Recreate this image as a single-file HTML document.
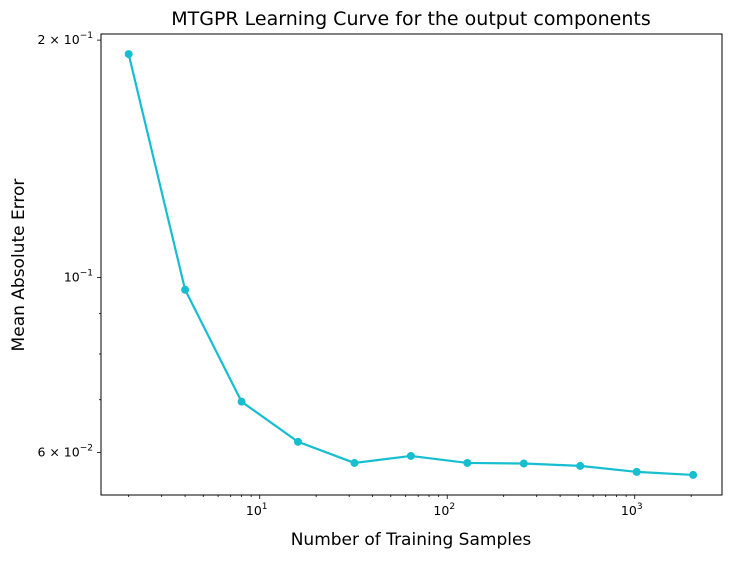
<!DOCTYPE html>
<html><head><meta charset="utf-8"><style>
body{margin:0;background:#fff;}
svg{font-family:"DejaVu Sans","Liberation Sans",sans-serif;}
</style></head><body>
<svg id="chart" width="731" height="559" xmlns="http://www.w3.org/2000/svg">
<rect width="731" height="559" fill="#fff"/>
<text x="411" y="25" font-size="19" text-anchor="middle">MTGPR Learning Curve for the output components</text>
<text x="411" y="545" font-size="17" text-anchor="middle">Number of Training Samples</text>
<text transform="translate(24,265) rotate(-90)" font-size="17" text-anchor="middle">Mean Absolute Error</text>
<g id="axes"></g>
<g id="marks"></g>
<rect x="101" y="34" width="621" height="461" fill="none" stroke="#000" stroke-width="1"/>
</svg>
<script>
const samples = [2,4,8,16,32,64,128,256,512,1024,2048];
const maeValues = [0.192,0.0965,0.0696,0.0619,0.0582,0.0594,0.0582,0.0581,0.0577,0.0567,0.0562];
const xTickValues = [10,100,1000];
const xTickLabels = ["10","10","10"];
const xTickExps = ["1","2","3"];
const yTickValues = [0.2,0.1,0.06];
const yTickMant = ["2 × 10","10","6 × 10"];
const yTickExps = ["−1","−1","−2"];
const yMinorValues = [0.07,0.08,0.09];

const L=101,R=722,T=34,B=495;
const xMin=Math.log10(1.424),xMax=Math.log10(2920);
const yMin=Math.log10(0.0530),yMax=Math.log10(0.2036);
const xs=v=>L+(Math.log10(v)-xMin)/(xMax-xMin)*(R-L);
const ys=v=>B-(Math.log10(v)-yMin)/(yMax-yMin)*(B-T);
const NS="http://www.w3.org/2000/svg";
function mk(tag,attrs,parent){const e=document.createElementNS(NS,tag);for(const k in attrs)e.setAttribute(k,attrs[k]);parent.appendChild(e);return e;}
const axes=document.getElementById('axes'),marks=document.getElementById('marks');
for(let d=1;d<=1000;d*=10)for(let m=2;m<=9;m++){const v=d*m;const x=xs(v);if(x<L||x>R)continue;
 const t=mk('line',{x1:x,x2:x,y1:B,y2:B+2,stroke:'#000','stroke-width':0.8},axes);
 
 }
xTickValues.forEach((v,i)=>{const x=xs(v);
 const t=mk('line',{x1:x,x2:x,y1:B,y2:B+4,stroke:'#000','stroke-width':0.8},axes);
 
 
 const tx=mk('text',{x:x-3,y:B+20,'font-size':12.5,'text-anchor':'middle'},axes);
 
 
 tx.textContent=xTickLabels[i];
 const sp=mk('tspan',{dy:-6,'font-size':9},tx);sp.textContent=xTickExps[i];});
yMinorValues.forEach(v=>{const y=ys(v);
 const t=mk('line',{x1:L-2,x2:L,y1:y,y2:y,stroke:'#000','stroke-width':0.8},axes);
 
 });
yTickValues.forEach((v,i)=>{const y=ys(v);
 const t=mk('line',{x1:L-4,x2:L,y1:y,y2:y,stroke:'#000','stroke-width':0.8},axes);
 
 
 const tx=mk('text',{x:L-8,y:y+4,'font-size':12.5,'text-anchor':'end'},axes);
 
 
 tx.appendChild(document.createTextNode(yTickMant[i]));
 const sp=mk('tspan',{dy:-6,'font-size':9},tx);sp.textContent=yTickExps[i];});
const pts=samples.map((s,i)=>xs(s)+','+ys(maeValues[i])).join(' ');
const pl=mk('polyline',{points:pts,fill:'none',stroke:'#17becf','stroke-width':2.2},marks);


samples.forEach((s,i)=>{const c=mk('circle',{cx:xs(s),cy:ys(maeValues[i]),r:4,fill:'#17becf'},marks);
 
 });
</script>
</body></html>
